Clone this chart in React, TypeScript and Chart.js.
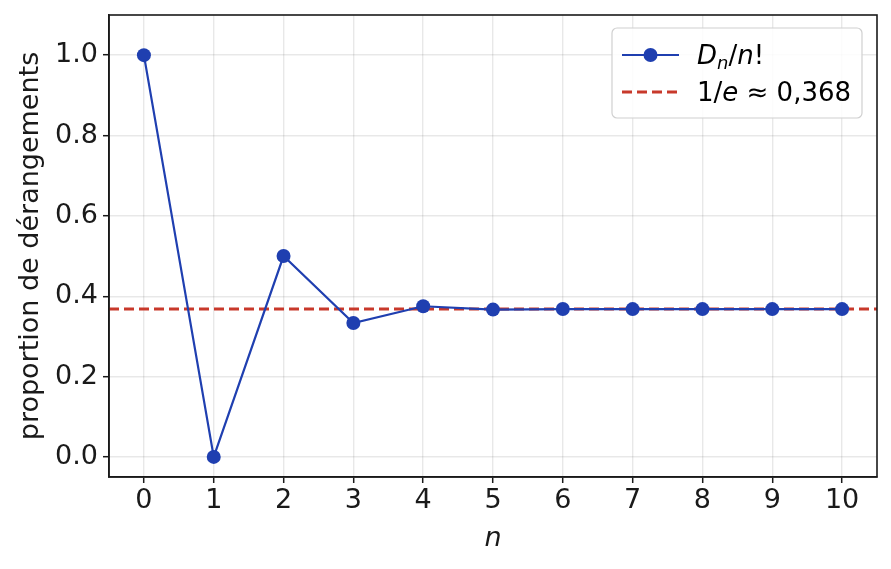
import React, { useEffect, useRef } from "react";
import { Chart, registerables } from "chart.js";

Chart.register(...registerables);

const nValues = [0, 1, 2, 3, 4, 5, 6, 7, 8, 9, 10];
const proportions = [1.0, 0.0, 0.5, 0.3333, 0.375, 0.3667, 0.3681, 0.3679, 0.3679, 0.3679, 0.3679];
const limitValue = 0.368;
const limitSpan = [-0.5, 10.5];
const yTickValues = [0.0, 0.2, 0.4, 0.6, 0.8, 1.0];
const xTickValues = [0, 1, 2, 3, 4, 5, 6, 7, 8, 9, 10];
const yAxisTitle = "proportion de dérangements";
const xAxisTitle = "n";

const BLUE = "#1f3fb0";
const RED = "#c8392b";
const INK = "#1a1a1a";
const FONT = "'DejaVu Sans', sans-serif";
const FS = 26;
const AXFS = 27;

type Seg = { t: string; italic?: boolean; sub?: boolean };
const legendLines: { kind: "line" | "dash"; segs: Seg[] }[] = [
  {
    kind: "line",
    segs: [
      { t: "D", italic: true },
      { t: "n", italic: true, sub: true },
      { t: "/" },
      { t: "n", italic: true },
      { t: "!" },
    ],
  },
  {
    kind: "dash",
    segs: [{ t: "1/" }, { t: "e", italic: true }, { t: " ≈ 0,368" }],
  },
];

const framePlugin = {
  id: "frame",
  afterDatasetsDraw(chart: any) {
    const { ctx, chartArea: a } = chart;
    ctx.save();
    ctx.strokeStyle = INK;
    ctx.lineWidth = 1.6;
    ctx.strokeRect(a.left, a.top, a.right - a.left, a.bottom - a.top);
    ctx.restore();
  },
  afterDraw(chart: any) {
    const { ctx, chartArea: a } = chart;
    const boxW = 250;
    const boxH = 90;
    const x0 = a.right - 15 - boxW;
    const y0 = a.top + 13;
    ctx.save();
    ctx.fillStyle = "rgba(255,255,255,0.85)";
    ctx.strokeStyle = "#d0d0d0";
    ctx.lineWidth = 1.2;
    ctx.beginPath();
    (ctx as any).roundRect(x0, y0, boxW, boxH, 5);
    ctx.fill();
    ctx.stroke();
    legendLines.forEach((ln, i) => {
      const cy = y0 + 27 + i * 37;
      const lx0 = x0 + 10;
      const lx1 = x0 + 67;
      ctx.beginPath();
      if (ln.kind === "line") {
        ctx.strokeStyle = BLUE;
        ctx.lineWidth = 2.2;
        ctx.setLineDash([]);
      } else {
        ctx.strokeStyle = RED;
        ctx.lineWidth = 3;
        ctx.setLineDash([10, 5]);
      }
      ctx.moveTo(lx0, cy);
      ctx.lineTo(lx1, cy);
      ctx.stroke();
      ctx.setLineDash([]);
      if (ln.kind === "line") {
        ctx.fillStyle = BLUE;
        ctx.beginPath();
        ctx.arc((lx0 + lx1) / 2, cy, 7, 0, Math.PI * 2);
        ctx.fill();
      }
      let tx = x0 + 85;
      ctx.fillStyle = "#000";
      ctx.textBaseline = "alphabetic";
      ctx.textAlign = "left";
      const base = cy + 9;
      ln.segs.forEach((s) => {
        const size = s.sub ? Math.round(FS * 0.7) : FS;
        ctx.font = `${s.italic ? "italic " : ""}${size}px ${FONT}`;
        ctx.fillText(s.t, tx, s.sub ? base + 5 : base);
        tx += ctx.measureText(s.t).width;
      });
    });
    ctx.restore();
  },
};

export default function App() {
  const ref = useRef<HTMLCanvasElement>(null);
  useEffect(() => {
    document.body.style.margin = "0";
    const canvas = ref.current!;
    const chart = new Chart(canvas, {
      type: "scatter",
      data: {
        datasets: [
          {
            label: "limit",
            data: limitSpan.map((x) => ({ x, y: limitValue })),
            showLine: true,
            borderColor: RED,
            borderWidth: 3,
            borderDash: [10, 5],
            pointRadius: 0,
            order: 2,
          },
          {
            label: "Dn/n!",
            data: nValues.map((x, i) => ({ x, y: proportions[i] })),
            showLine: true,
            borderColor: BLUE,
            backgroundColor: BLUE,
            borderWidth: 2.2,
            pointRadius: 7,
            pointHoverRadius: 7,
            pointBorderWidth: 0,
            order: 1,
          },
        ],
      },
      options: {
        animation: false,
        responsive: false,
        devicePixelRatio: 1,
        events: [],
        layout: { padding: { top: 15, right: 14, left: 0, bottom: 0 } },
        plugins: { legend: { display: false }, tooltip: { enabled: false } },
        scales: {
          x: {
            type: "linear",
            min: -0.5,
            max: 10.5,
            afterBuildTicks: (s: any) => {
              s.ticks = xTickValues.map((v) => ({ value: v }));
            },
            afterFit: (s: any) => {
              s.height = 92;
              s.paddingLeft = 0;
              s.paddingRight = 0;
            },
            grid: {
              color: "rgba(0,0,0,0.09)",
              lineWidth: 1.4,
              tickLength: 6,
              tickColor: INK,
              tickWidth: 1.5,
            },
            border: { color: INK, width: 1.6 },
            ticks: {
              color: INK,
              font: { family: FONT, size: AXFS },
              padding: 2,
              maxRotation: 0,
              callback: (v: any) => String(v),
            },
            title: {
              display: true,
              text: xAxisTitle,
              color: INK,
              font: { family: FONT, size: AXFS, style: "italic" },
              padding: { top: 0, bottom: 14 },
            },
          },
          y: {
            type: "linear",
            min: -0.05,
            max: 1.1,
            afterBuildTicks: (s: any) => {
              s.ticks = yTickValues.map((v) => ({ value: v }));
            },
            afterFit: (s: any) => {
              s.width = 109;
              s.paddingTop = 0;
              s.paddingBottom = 0;
            },
            grid: {
              color: "rgba(0,0,0,0.09)",
              lineWidth: 1.4,
              tickLength: 6,
              tickColor: INK,
              tickWidth: 1.5,
            },
            border: { color: INK, width: 1.6 },
            ticks: {
              color: INK,
              font: { family: FONT, size: AXFS },
              padding: 5,
              callback: (v: any) => Number(v).toFixed(1),
            },
            title: {
              display: true,
              text: yAxisTitle,
              color: INK,
              font: { family: FONT, size: AXFS },
              padding: { top: 15, bottom: 0 },
            },
          },
        },
      },
      plugins: [framePlugin],
    });
    return () => chart.destroy();
  }, []);
  return (
    <div style={{ width: 891, height: 569, background: "#fff" }}>
      <canvas ref={ref} width={891} height={569} style={{ display: "block" }} />
    </div>
  );
}
